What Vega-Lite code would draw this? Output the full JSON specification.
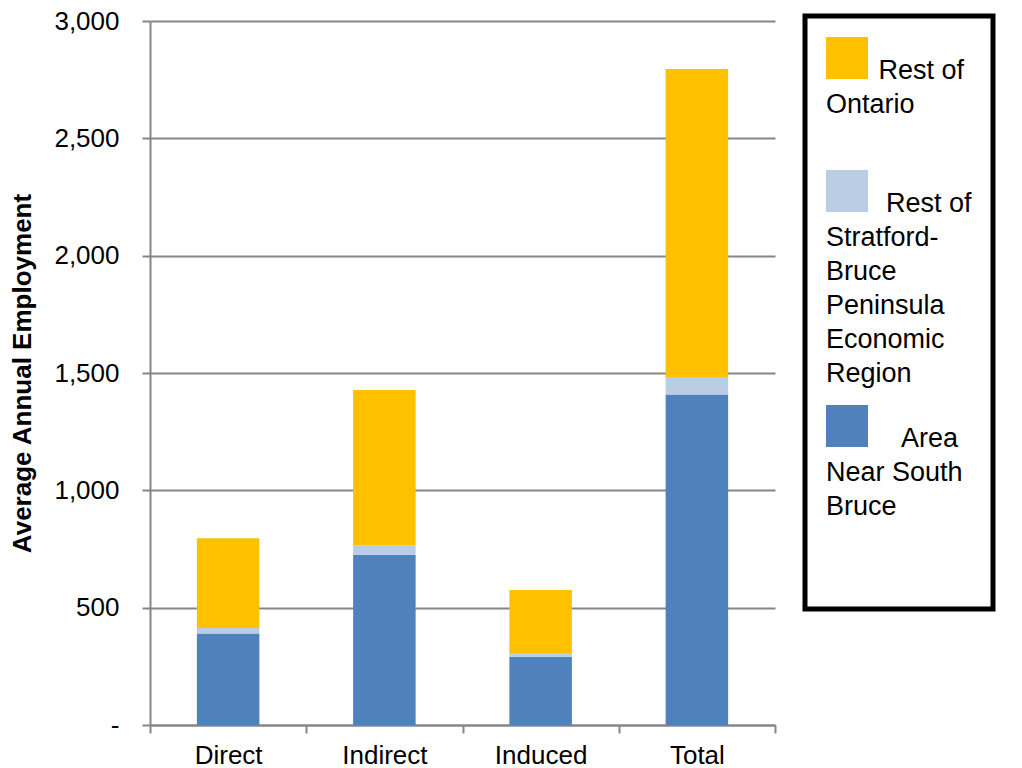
{
  "$schema": "https://vega.github.io/schema/vega-lite/v6.json",
  "autosize": {"type": "none"},
  "width": 625,
  "height": 704,
  "padding": {"left": 150, "top": 21, "right": 247, "bottom": 43},
  "background": "white",
  "config": {
    "font": "Liberation Sans",
    "view": {"stroke": null}
  },
  "data": {
    "values": [
      {"category": "Direct", "region": "Area Near South Bruce", "jobs": 390},
      {"category": "Direct", "region": "Rest of Stratford-Bruce Peninsula Economic Region", "jobs": 23},
      {"category": "Direct", "region": "Rest of Ontario", "jobs": 383},
      {"category": "Indirect", "region": "Area Near South Bruce", "jobs": 725},
      {"category": "Indirect", "region": "Rest of Stratford-Bruce Peninsula Economic Region", "jobs": 41},
      {"category": "Indirect", "region": "Rest of Ontario", "jobs": 662},
      {"category": "Induced", "region": "Area Near South Bruce", "jobs": 291},
      {"category": "Induced", "region": "Rest of Stratford-Bruce Peninsula Economic Region", "jobs": 16},
      {"category": "Induced", "region": "Rest of Ontario", "jobs": 268},
      {"category": "Total", "region": "Area Near South Bruce", "jobs": 1408},
      {"category": "Total", "region": "Rest of Stratford-Bruce Peninsula Economic Region", "jobs": 75},
      {"category": "Total", "region": "Rest of Ontario", "jobs": 1312}
    ]
  },
  "transform": [
    {"calculate": "indexof(['Area Near South Bruce', 'Rest of Stratford-Bruce Peninsula Economic Region', 'Rest of Ontario'], datum.region)", "as": "stackOrder"}
  ],
  "mark": {"type": "bar", "width": {"band": 0.4}},
  "encoding": {
    "x": {
      "field": "category",
      "type": "nominal",
      "sort": ["Direct", "Indirect", "Induced", "Total"],
      "scale": {"paddingInner": 0, "paddingOuter": 0},
      "axis": {
        "title": null,
        "labelAngle": 0,
        "labelFontSize": 26,
        "labelColor": "#000000",
        "labelPadding": 9,
        "domainColor": "#868686",
        "domainWidth": 2,
        "tickColor": "#868686",
        "tickWidth": 2,
        "tickSize": 8,
        "tickBand": "extent",
        "grid": false
      }
    },
    "y": {
      "field": "jobs",
      "type": "quantitative",
      "stack": "zero",
      "scale": {"domain": [0, 3000], "nice": false},
      "axis": {
        "title": "Average Annual Employment",
        "titleFontSize": 26,
        "titleFontWeight": "bold",
        "titleColor": "#000000",
        "titlePadding": 18,
        "values": [0, 500, 1000, 1500, 2000, 2500, 3000],
        "labelExpr": "datum.value == 0 ? '-' : format(datum.value, ',')",
        "labelFontSize": 26,
        "labelColor": "#000000",
        "labelPadding": 23,
        "domainColor": "#868686",
        "domainWidth": 2,
        "tickColor": "#868686",
        "tickWidth": 2,
        "tickSize": 8,
        "grid": true,
        "gridColor": "#868686",
        "gridWidth": 2
      }
    },
    "color": {
      "field": "region",
      "type": "nominal",
      "scale": {
        "domain": ["Rest of Ontario", "Rest of Stratford-Bruce Peninsula Economic Region", "Area Near South Bruce"],
        "range": ["#FFC000", "#B9CDE5", "#4F81BD"]
      },
      "legend": {
        "title": null,
        "orient": "none",
        "legendX": 655,
        "legendY": -5,
        "direction": "vertical",
        "fillColor": "#ffffff",
        "strokeColor": "#000000",
        "padding": 21,
        "rowPadding": 18,
        "symbolType": "square",
        "symbolSize": 1764,
        "symbolStrokeWidth": 0,
        "symbolOpacity": 1,
        "labelFontSize": 27,
        "labelColor": "#000000",
        "labelLimit": 600,
        "labelOffset": -42,
        "labelBaseline": "top",
        "labelExpr": "datum.label == 'Rest of Ontario' ? ['\u200b\u00a0\u00a0\u00a0\u00a0\u00a0\u00a0\u00a0Rest of', 'Ontario', ''] : datum.label == 'Area Near South Bruce' ? ['\u200b\u00a0\u00a0\u00a0\u00a0\u00a0\u00a0\u00a0\u00a0\u00a0\u00a0Area', 'Near South', 'Bruce', '', ''] : ['\u200b\u00a0\u00a0\u00a0\u00a0\u00a0\u00a0\u00a0\u00a0Rest of', 'Stratford-', 'Bruce', 'Peninsula', 'Economic', 'Region']",
        "encode": {
          "legend": {"update": {"strokeWidth": {"value": 5}, "width": {"value": 260}}},
          "labels": {"update": {"lineHeight": {"value": 34}}}
        }
      }
    },
    "order": {"field": "stackOrder", "type": "quantitative"}
  }
}
